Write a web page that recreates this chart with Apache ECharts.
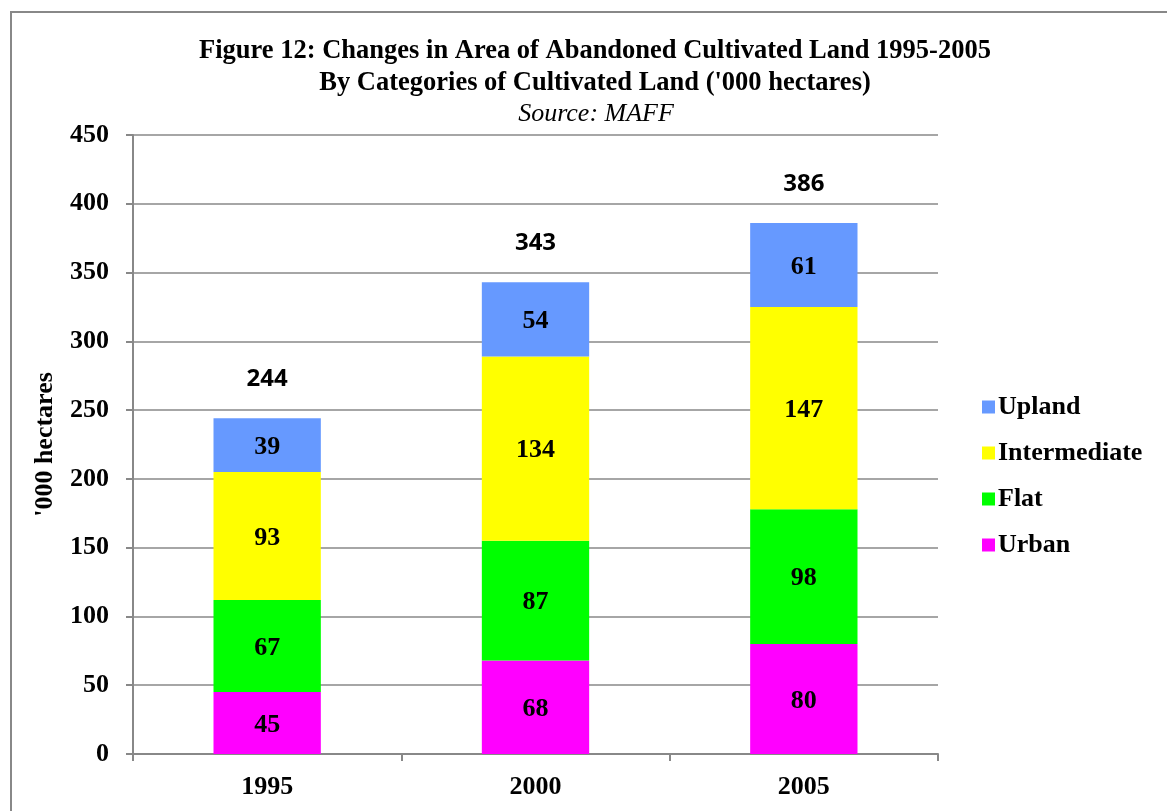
<!DOCTYPE html>
<html><head><meta charset="utf-8">
<script src="https://cdn.jsdelivr.net/npm/echarts@6/dist/echarts.min.js"></script>
<style>html,body{margin:0;padding:0;background:#fff}#c{width:1167px;height:811px}</style>
</head><body><div id="c"></div>
<script>
const categories = ['1995', '2000', '2005'];
const urban = [45, 68, 80];
const flat = [67, 87, 98];
const intermediate = [93, 134, 147];
const upland = [39, 54, 61];
const totals = [244, 343, 386];
const yTicks = [0, 50, 100, 150, 200, 250, 300, 350, 400, 450];

const serif = 'Liberation Serif';
const segLabel = {show: true, position: 'inside', fontFamily: serif, fontWeight: 'bold', fontSize: 26, color: '#000', offset: [0, 2]};
function seg(name, data, color) {
  return {name, type: 'bar', stack: 'a', data, barWidth: '40%', itemStyle: {color}, label: segLabel, emphasis: {disabled: true}};
}
const chart = echarts.init(document.getElementById('c'));
chart.setOption({
  animation: false,
  backgroundColor: '#fff',
  graphic: [{type: 'rect', shape: {x: 11, y: 12, width: 1200, height: 850}, style: {fill: 'none', stroke: '#888', lineWidth: 2}, z: -1}],
  title: [
    {text: "Figure 12: Changes in Area of Abandoned Cultivated Land 1995-2005\nBy Categories of Cultivated Land ('000 hectares)", left: 590, top: 30, textAlign: 'center',
     textStyle: {fontFamily: serif, fontWeight: 'bold', fontSize: 26.5, lineHeight: 32, color: '#000'}},
    {text: 'Source: MAFF', left: 591, top: 96, textAlign: 'center',
     textStyle: {fontFamily: serif, fontStyle: 'italic', fontWeight: 'normal', fontSize: 26, color: '#000'}}
  ],
  legend: {
    orient: 'vertical', left: 977, top: 389, itemWidth: 13, itemHeight: 13, itemGap: 20,
    icon: 'rect', selectedMode: false,
    data: ['Upland', 'Intermediate', 'Flat', 'Urban'],
    textStyle: {fontFamily: serif, fontWeight: 'bold', fontSize: 26, color: '#000', padding: [0, 0, 0, -2]}
  },
  grid: {left: 133, right: 229, top: 135, bottom: 57},
  xAxis: {
    type: 'category', data: categories,
    axisLine: {lineStyle: {color: '#888', width: 2}},
    axisTick: {show: true, length: 7, lineStyle: {color: '#888', width: 2}},
    axisLabel: {fontFamily: serif, fontWeight: 'bold', fontSize: 26, color: '#000', margin: 20}
  },
  yAxis: {
    type: 'value', min: 0, max: 450, interval: 50,
    name: "'000 hectares", nameLocation: 'middle', nameGap: 75, nameRotate: 90,
    nameTextStyle: {fontFamily: serif, fontWeight: 'bold', fontSize: 26, color: '#000'},
    axisLine: {show: true, lineStyle: {color: '#888', width: 2}},
    axisTick: {show: true, length: 7, lineStyle: {color: '#888', width: 2}},
    splitLine: {lineStyle: {color: '#888', width: 1.5}},
    axisLabel: {fontFamily: serif, fontWeight: 'bold', fontSize: 26, color: '#000', margin: 24,
      formatter: v => yTicks.includes(v) ? String(v) : ''}
  },
  series: [
    seg('Urban', urban, '#FF00FF'),
    seg('Flat', flat, '#00FF00'),
    seg('Intermediate', intermediate, '#FFFF00'),
    seg('Upland', upland, '#6699FF'),
    {name: 'Total', type: 'bar', stack: 'a', data: totals.map(() => 0), barWidth: '40%', itemStyle: {color: 'transparent'},
     label: {show: true, position: 'top', distance: 27, formatter: p => String(totals[p.dataIndex]),
       fontFamily: 'Open Sans', fontWeight: 'bold', fontSize: 24, color: '#000'}, emphasis: {disabled: true}}
  ]
});
</script></body></html>
